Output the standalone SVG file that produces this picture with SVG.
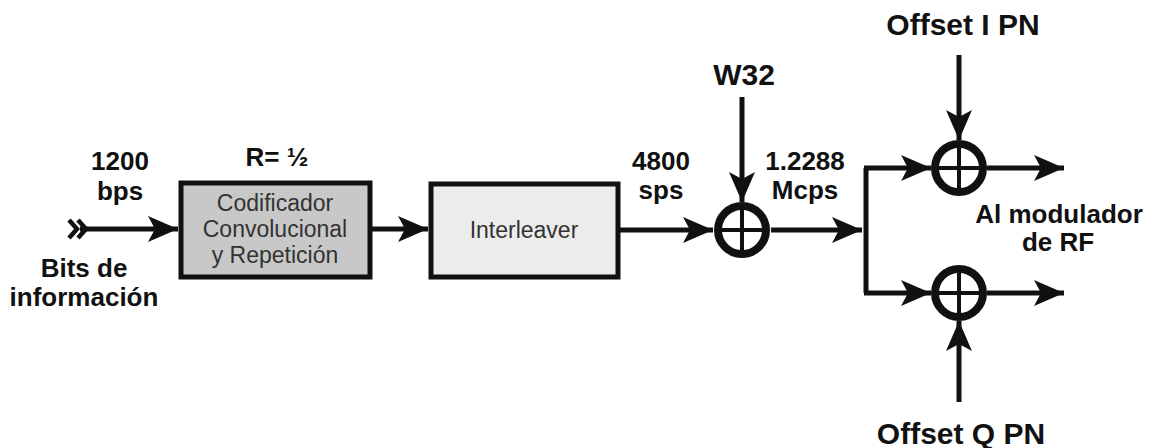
<svg xmlns="http://www.w3.org/2000/svg" width="1151" height="448" viewBox="0 0 1151 448">
<style>
.lbl{font-family:"Liberation Sans",Arial,sans-serif;font-weight:bold;font-size:26px;fill:#111;text-anchor:middle}
.big{font-size:30px}
.box{stroke:#111;stroke-width:5}
.btx{font-family:"Liberation Sans",Arial,sans-serif;font-size:23px;fill:#333;text-anchor:middle}
.ln{stroke:#111;stroke-width:5;fill:none}
.xr{fill:none;stroke:#111;stroke-width:8}
.xc{stroke:#111;stroke-width:4}
</style>
<defs>
<marker id="ah" markerUnits="userSpaceOnUse" markerWidth="32" markerHeight="28" refX="30" refY="13" orient="auto">
<path d="M0,0 L30,13 L0,26 L7,13 Z" fill="#111"/>
</marker>
</defs>
<rect width="1151" height="448" fill="#fff"/>
<g id="connectors">
<path class="ln" d="M80,229 L178,229" marker-end="url(#ah)"/>
<path class="ln" d="M370,229 L428,229" marker-end="url(#ah)"/>
<path class="ln" d="M618,230 L713,230" marker-end="url(#ah)"/>
<path class="ln" d="M742,97 L742,202" marker-end="url(#ah)"/>
<path class="ln" d="M771,230 L862,230" marker-end="url(#ah)"/>
<path class="ln" d="M866,168 L866,293"/>
<path class="ln" d="M864,168 L931,168" marker-end="url(#ah)"/>
<path class="ln" d="M864,293 L931,293" marker-end="url(#ah)"/>
<path class="ln" d="M959,55 L959,140" marker-end="url(#ah)"/>
<path class="ln" d="M959,402 L959,321" marker-end="url(#ah)"/>
<path class="ln" d="M987,168 L1064,168" marker-end="url(#ah)"/>
<path class="ln" d="M987,293 L1064,293" marker-end="url(#ah)"/>
</g>
<g id="input">
<path d="M69,220 L77,229 L69,238 M78,220 L86,229 L78,238" stroke="#111" stroke-width="4.5" fill="none"/>
<text class="lbl" x="120" y="170">1200</text>
<text class="lbl" x="120" y="200">bps</text>
<text class="lbl" x="84" y="277">Bits de</text>
<text class="lbl" x="84" y="306">información</text>
</g>
<g id="codificador">
<text class="lbl" x="277" y="166">R= ½</text>
<rect class="box" x="181" y="183" width="189" height="94" fill="#c8c8c8"/>
<text class="btx" x="275" y="211">Codificador</text>
<text class="btx" x="275" y="237">Convolucional</text>
<text class="btx" x="275" y="263">y Repetición</text>
</g>
<g id="interleaver">
<rect class="box" x="431" y="184" width="187" height="93" fill="#ececec"/>
<text class="btx" x="524" y="238">Interleaver</text>
</g>
<g id="labels-mid">
<text class="lbl" x="661" y="170">4800</text>
<text class="lbl" x="661" y="199">sps</text>
<text class="lbl" x="805" y="170">1.2288</text>
<text class="lbl" x="805" y="199">Mcps</text>
</g>
<g id="xor-w32">
<text class="lbl big" x="744" y="85">W32</text>
<circle class="xr" cx="742" cy="230" r="24"/>
<path class="xc" d="M718,230 H766 M742,206 V254"/>
</g>
<g id="xor-i">
<text class="lbl big" x="963" y="35">Offset I PN</text>
<circle class="xr" cx="959" cy="168" r="24"/>
<path class="xc" d="M935,168 H983 M959,144 V192"/>
</g>
<g id="xor-q">
<circle class="xr" cx="959" cy="293" r="24"/>
<path class="xc" d="M935,293 H983 M959,269 V317"/>
<text class="lbl big" x="961" y="444">Offset Q PN</text>
</g>
<g id="output">
<text class="lbl" x="1059" y="223">Al modulador</text>
<text class="lbl" x="1058" y="251">de RF</text>
</g>
</svg>
